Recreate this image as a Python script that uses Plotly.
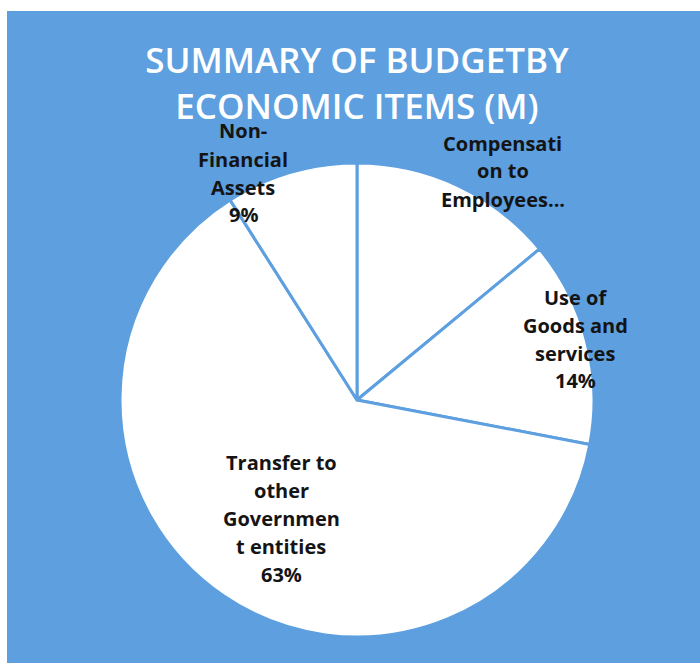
import plotly.graph_objects as go

# ---- data ----
categories = ["Compensati\non to\nEmployees...",
              "Use of\nGoods and\nservices",
              "Transfer to\nother\nGovernmen\nt entities",
              "Non-\nFinancial\nAssets"]
percent_values = [14, 14, 63, 9]
show_percent = [False, True, True, True]
title_lines = ["SUMMARY OF BUDGETBY", "ECONOMIC ITEMS (M)"]

# ---- layout helpers (pixels) ----
W, H = 700, 663
BLUE = "rgb(93,159,223)"
TEXT = "#141414"
cx, cy, r = 357, 400, 237
# label anchor (center x, first-line center y) per category
label_pos = [(503, 143), (575, 297), (281, 462), (243, 131)]
line_gap = 28

def px(x):
    return x / W

def py(y):
    return 1 - y / H

fig = go.Figure()
fig.add_trace(go.Pie(
    labels=[c.replace("\n", " ") for c in categories],
    values=percent_values,
    sort=False,
    direction="clockwise",
    rotation=0,
    textinfo="none",
    hoverinfo="label+percent",
    marker=dict(colors=["white"] * len(categories),
                line=dict(color=BLUE, width=3)),
    domain=dict(x=[px(cx - r), px(cx + r)], y=[py(cy + r), py(cy - r)]),
    showlegend=False,
))

annotations = []
for cat, val, showp, (lx, ly) in zip(categories, percent_values, show_percent, label_pos):
    lines = cat.split("\n")
    if showp:
        lines = lines + [f"{val}%"]
    for i, ln in enumerate(lines):
        annotations.append(dict(
            x=px(lx), y=py(ly + i * line_gap), xref="paper", yref="paper",
            text=ln, showarrow=False, xanchor="center", yanchor="middle",
            font=dict(family="Open Sans", size=20, color=TEXT, weight="bold"),
        ))

fig.update_layout(
    width=W, height=H,
    margin=dict(l=0, r=0, t=0, b=0),
    paper_bgcolor="white",
    plot_bgcolor="white",
    shapes=[dict(type="rect", xref="paper", yref="paper",
                 x0=px(7), x1=1, y0=0, y1=py(11),
                 fillcolor=BLUE, line=dict(width=0), layer="below")],
    title=dict(text="<br>".join(title_lines), x=px(357), xanchor="center",
               y=py(73), yanchor="middle", yref="paper",
               font=dict(family="Open Sans", size=35, color="white", weight=600)),
    annotations=annotations,
)

fig.write_html("out.html", config={"displayModeBar": False},
               post_script="document.body.style.margin='0';document.body.style.overflow='hidden';")
